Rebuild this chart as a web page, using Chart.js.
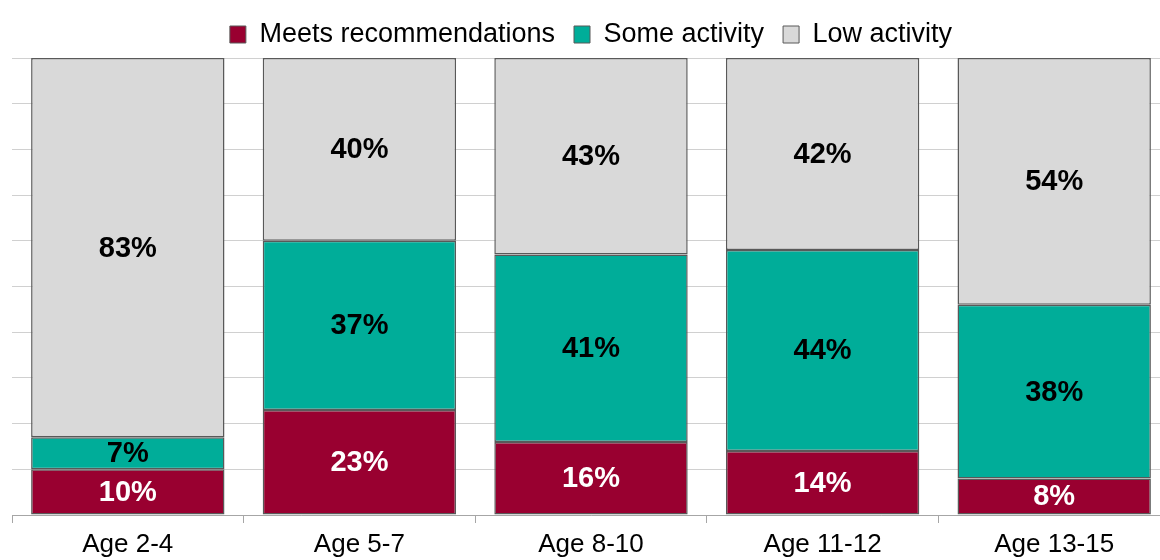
<!DOCTYPE html>
<html>
<head>
<meta charset="utf-8">
<script src="https://cdn.jsdelivr.net/npm/chart.js@4"></script>
<style>
  html, body { margin: 0; padding: 0; overflow: hidden; background: #fff; }
  #wrap { width: 1170px; height: 569px; }
</style>
</head>
<body>
<div id="wrap"><canvas id="chart"></canvas></div>
<script>
const categories = ['Age 2-4', 'Age 5-7', 'Age 8-10', 'Age 11-12', 'Age 13-15'];
const meets = [10, 23, 16, 14, 8];
const some = [7, 37, 41, 44, 38];
const low = [83, 40, 43, 42, 54];

const FONT = '"Liberation Sans", Arial, sans-serif';

// labels drawn in the middle of each segment
const barLabels = {
  id: 'barLabels',
  afterDatasetsDraw(chart) {
    const ctx = chart.ctx;
    ctx.save();
    ctx.font = 'bold 29px ' + FONT;
    ctx.textAlign = 'center';
    ctx.textBaseline = 'middle';
    chart.data.datasets.forEach((ds, i) => {
      chart.getDatasetMeta(i).data.forEach((bar, j) => {
        const y = (bar.y + bar.base) / 2;
        ctx.fillStyle = i === 0 ? '#ffffff' : '#000000';
        ctx.fillText(ds.data[j] + '%', bar.x, y + 1);
      });
    });
    ctx.restore();
  }
};

new Chart(document.getElementById('chart'), {
  type: 'bar',
  data: {
    labels: categories,
    datasets: [
      { label: 'Meets recommendations', data: meets, backgroundColor: '#990030' },
      { label: 'Some activity', data: some, backgroundColor: '#00AD99' },
      { label: 'Low activity', data: low, backgroundColor: '#D9D9D9' }
    ].map(d => Object.assign(d, {
      borderColor: '#595959', borderWidth: 1.5, borderSkipped: false,
      categoryPercentage: 0.835, barPercentage: 1
    }))
  },
  options: {
    responsive: true,
    maintainAspectRatio: false,
    animation: false,
    layout: { padding: { left: 12, right: 0, top: 2, bottom: 2 } },
    plugins: {
      legend: {
        display: true,
        labels: {
          font: { size: 27, family: FONT },
          color: '#000',
          boxWidth: 16, boxHeight: 17,
          padding: 19,
          generateLabels(chart) {
            return chart.data.datasets.map((d, i) => ({
              text: d.label, fillStyle: d.backgroundColor,
              strokeStyle: '#595959', lineWidth: 1, datasetIndex: i
            }));
          }
        }
      },
      tooltip: { enabled: false }
    },
    scales: {
      x: {
        stacked: true,
        offset: true,
        grid: { offset: true, drawOnChartArea: false, drawTicks: true, tickLength: 8, color: '#A6A6A6' },
        border: { color: '#A6A6A6' },
        ticks: { color: '#000', font: { size: 26, family: FONT, lineHeight: 1 }, padding: 9 }
      },
      y: {
        stacked: true,
        min: 0, max: 100,
        ticks: { display: false, stepSize: 10 },
        grid: { color: '#D0D0D0', drawTicks: false },
        border: { display: false }
      }
    }
  },
  plugins: [barLabels]
});
</script>
</body>
</html>
